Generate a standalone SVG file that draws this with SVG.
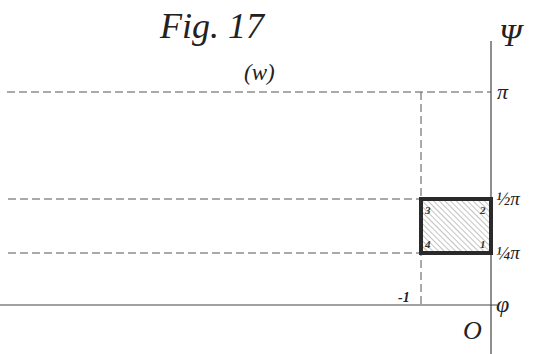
<svg xmlns="http://www.w3.org/2000/svg" width="533" height="354" viewBox="0 0 533 354">
<defs>
<style>
.dash{stroke:#555;stroke-width:1;stroke-dasharray:8 4;fill:none}
.axis{stroke:#444;stroke-width:1.2;fill:none}
.lbl{font-family:"Liberation Serif",serif;font-style:italic;fill:#222}
.num{font-family:"Liberation Serif",serif;font-style:italic;font-weight:bold;font-size:11px;fill:#333}
</style>
<pattern id="hatch" patternUnits="userSpaceOnUse" width="4" height="4" patternTransform="rotate(-45)">
<line x1="0" y1="0" x2="0" y2="4" stroke="#888" stroke-width="1"/>
</pattern>
</defs>
<rect width="533" height="354" fill="#fff"/>
<g id="connectors">
<line class="dash" x1="7" y1="92" x2="491" y2="92"/>
<line class="dash" x1="8" y1="199" x2="421" y2="199"/>
<line class="dash" x1="8" y1="253" x2="421" y2="253"/>
<line class="dash" x1="421" y1="92" x2="421" y2="305"/>
<line class="axis" x1="0" y1="305" x2="497" y2="305"/>
<line class="axis" x1="491" y1="41" x2="491" y2="354"/>
</g>
<g id="region">
<rect x="421" y="199" width="70" height="54" fill="url(#hatch)" stroke="#2a2a2a" stroke-width="4"/>
<text class="num" x="425" y="214">3</text>
<text class="num" x="480" y="214">2</text>
<text class="num" x="425" y="248">4</text>
<text class="num" x="480" y="248">1</text>
</g>
<g id="title">
<text class="lbl" x="160" y="38" font-size="36">Fig. 17</text>
<text class="lbl" x="244" y="80" font-size="23">(w)</text>
</g>
<g id="labels">
<text class="lbl" x="499" y="46" font-size="32">Ψ</text>
<text class="lbl" x="497" y="99" font-size="22">π</text>
<text class="lbl" x="496" y="205" font-size="19">½π</text>
<text class="lbl" x="496" y="259" font-size="19">¼π</text>
<text class="lbl" x="398" y="302" font-size="14" font-weight="bold">-1</text>
<text class="lbl" x="496" y="312" font-size="24">φ</text>
<text class="lbl" x="463" y="339" font-size="26">O</text>
</g>
</svg>
